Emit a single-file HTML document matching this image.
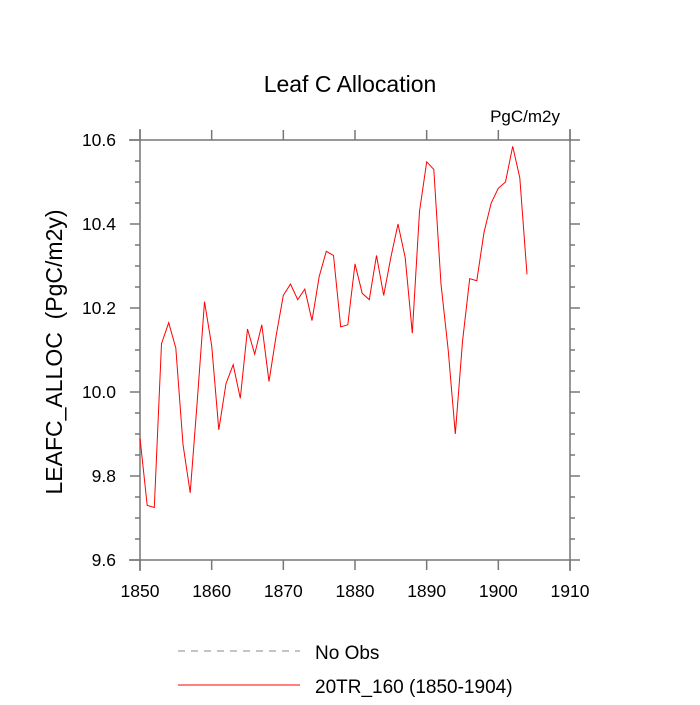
<!DOCTYPE html>
<html><head><meta charset="utf-8"><style>
body{margin:0;background:#fff}
svg text{font-family:"Liberation Sans",sans-serif;fill:#000}
</style></head><body>
<svg id="c" width="700" height="700">
<text x="350" y="92" font-size="23" text-anchor="middle">Leaf C Allocation</text>
<text x="560" y="122" font-size="17" text-anchor="end">PgC/m2y</text>
<text transform="translate(62,352) rotate(-90)" font-size="23" text-anchor="middle" xml:space="preserve" style="white-space:pre">LEAFC_ALLOC  (PgC/m2y)</text>
<g id="axes"></g>
<path id="line" fill="none" stroke="#ff0000" stroke-width="1"/>
<line x1="178" y1="651" x2="300" y2="651" stroke="#888" stroke-dasharray="7,6"/>
<text x="315" y="659" font-size="19">No Obs</text>
<line x1="178" y1="685" x2="300" y2="685" stroke="#ff0000"/>
<text x="315" y="693" font-size="19">20TR_160 (1850-1904)</text>
</svg>
<script>
const years=[];for(let y=1850;y<=1904;y++)years.push(y);
const values=[9.89,9.73,9.725,10.115,10.165,10.105,9.875,9.76,9.98,10.215,10.11,9.91,10.02,10.065,9.985,10.15,10.09,10.16,10.025,10.135,10.23,10.257,10.22,10.245,10.17,10.275,10.335,10.325,10.155,10.16,10.305,10.235,10.22,10.325,10.23,10.32,10.40,10.32,10.14,10.43,10.548,10.53,10.257,10.10,9.90,10.12,10.27,10.265,10.38,10.45,10.485,10.50,10.585,10.51,10.28];
const xTicks=[1850,1860,1870,1880,1890,1900,1910];
const yTicks=[9.6,9.8,10.0,10.2,10.4,10.6];
const X0=140,X1=570,Y0=140,Y1=560;
const sx=v=>X0+(v-1850)/60*(X1-X0);
const sy=v=>Y1-(v-9.6)/1.0*(Y1-Y0);
const NS="http://www.w3.org/2000/svg";
const ax=document.getElementById('axes');
function ln(x1,y1,x2,y2,name){const l=document.createElementNS(NS,'line');
l.setAttribute('x1',x1);l.setAttribute('y1',y1);l.setAttribute('x2',x2);l.setAttribute('y2',y2);
l.setAttribute('stroke','#777');l.setAttribute('stroke-width','1.5');


ax.appendChild(l);}
function tx(x,y,s,anchor,name){const t=document.createElementNS(NS,'text');
t.setAttribute('x',x);t.setAttribute('y',y);t.setAttribute('font-size','17.5');t.setAttribute('text-anchor',anchor);t.textContent=s;


ax.appendChild(t);}
ln(129,Y1,571,Y1,'x-axis');ln(129,Y0,571,Y0,'top-axis');
ln(X0,129,X0,571,'y-axis');ln(X1,129,X1,571,'right-axis');
xTicks.forEach(v=>{const x=sx(v);ln(x,Y1,x,Y1+10,'x-tick');ln(x,Y0,x,Y0-10,'top-tick');tx(x,597,String(v),'middle','x-tick-label');});
yTicks.forEach(v=>{const y=sy(v);ln(X0-10,y,X0,y,'y-tick');ln(X1,y,X1+10,y,'right-tick');tx(X0-24,y+6,v.toFixed(1),'end','y-tick-label');});
for(let k=1;k<20;k++){if(k%4===0)continue;const v=9.6+k*0.05;const y=sy(v);ln(X0-5,y,X0,y,'y-minor-tick');ln(X1,y,X1+5,y,'right-minor-tick');}
document.getElementById('line').setAttribute('d',values.map((v,i)=>(i?'L':'M')+sx(years[i]).toFixed(1)+','+sy(v).toFixed(1)).join(''));
</script>
</body></html>
